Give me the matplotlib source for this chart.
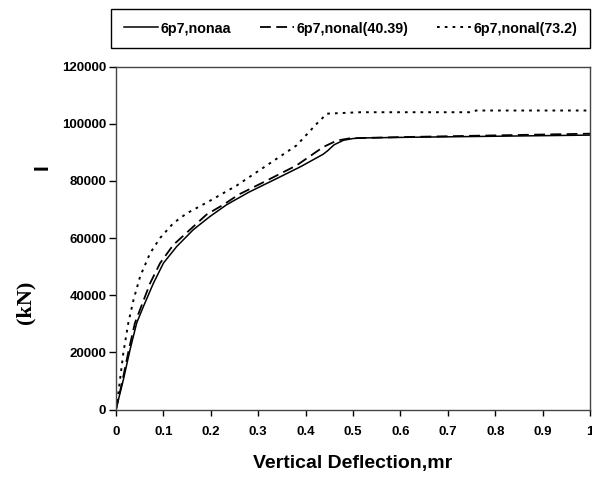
import matplotlib.pyplot as plt

# series
x_nonaa = [0, 0.0155, 0.0296, 0.0437, 0.058, 0.079, 0.1, 0.128, 0.163, 0.198, 0.233, 0.28, 0.339, 0.39, 0.437,
           0.447, 0.46, 0.48, 0.5, 0.52, 0.6, 0.8, 1.0]
y_nonaa = [0, 10400, 20900, 30300, 36100, 44200, 51200, 57000, 62900, 67500, 71600, 76000, 80800, 85000, 89300,
           90600, 92600, 94200, 94800, 95000, 95200, 95600, 96000]

x_nonal40 = [0, 0.014, 0.027, 0.04, 0.072, 0.093, 0.121, 0.156, 0.191, 0.226, 0.26, 0.311, 0.381, 0.437, 0.466,
             0.494, 0.6, 0.8, 1.0]
y_nonal40 = [0, 10400, 20900, 30300, 44200, 51200, 57600, 62900, 68200, 71600, 75300, 79500, 85400, 91800, 94100,
             94900, 95300, 95900, 96500]

x_nonal73 = [0, 0.005, 0.0155, 0.026, 0.037, 0.051, 0.072, 0.093, 0.121, 0.149, 0.198, 0.255, 0.318, 0.381, 0.423,
             0.445, 0.515, 0.747, 0.76, 1.0]
y_nonal73 = [0, 5800, 19800, 30300, 38400, 46600, 54700, 60000, 65200, 68600, 73000, 78400, 85400, 92400, 99900,
             103500, 104000, 104000, 104600, 104600]

xticks = [0, 0.1, 0.2, 0.3, 0.4, 0.5, 0.6, 0.7, 0.8, 0.9, 1]
xtick_labels = ['0', '0.1', '0.2', '0.3', '0.4', '0.5', '0.6', '0.7', '0.8', '0.9', '1']
yticks = [0, 20000, 40000, 60000, 80000, 100000, 120000]

plt.rcParams['font.family'] = ['Liberation Sans', 'DejaVu Sans']

fig = plt.figure(figsize=(5.92, 4.79), dpi=100)
ax = fig.add_axes([116 / 592, 1 - 409.5 / 479, 474 / 592, 343 / 479])

l1, = ax.plot(x_nonaa, y_nonaa, color='black', lw=1.1, ls='-')
l2, = ax.plot(x_nonal40, y_nonal40, color='black', lw=1.3, ls=(0, (6, 3)))
l3, = ax.plot(x_nonal73, y_nonal73, color='black', lw=1.4, ls=(0, (1.4, 2.6)))

ax.set_xlim(0, 1)
ax.set_ylim(0, 120000)
ax.set_xticks(xticks)
ax.set_xticklabels(xtick_labels)
ax.set_yticks(yticks)
ax.tick_params(direction='out', length=5, width=1, labelsize=9.5, pad=2)
ax.tick_params(axis='x', length=4, pad=8)
for lab in ax.get_xticklabels() + ax.get_yticklabels():
    lab.set_fontweight('bold')
for s in ax.spines.values():
    s.set_color('#444444')
    s.set_linewidth(1.0)

ax.set_xlabel('Vertical Deflection,mr', fontsize=14, fontweight='bold', labelpad=12)

fig.text(42 / 592, 1 - 167 / 479, 'I', rotation=90, fontsize=15, fontweight='bold',
         ha='center', va='center')
fig.text(25 / 592, 1 - 302 / 479, '(kN)', rotation=90, fontsize=16, fontweight='bold',
         family='Liberation Serif', ha='center', va='center')

leg = fig.legend([l1, l2, l3], ['6p7,nonaa', '6p7,nonal(40.39)', '6p7,nonal(73.2)'],
                 ncol=3, loc='center', bbox_to_anchor=(350.5 / 592, 1 - 28.5 / 479),
                 frameon=True, fancybox=False, edgecolor='black', framealpha=1,
                 prop={'weight': 'bold', 'size': 10.3}, handlelength=2.4,
                 handletextpad=0.15, columnspacing=2.0, borderpad=0.9)
leg.get_frame().set_linewidth(1.0)

fig.savefig('out.png', dpi=100)
